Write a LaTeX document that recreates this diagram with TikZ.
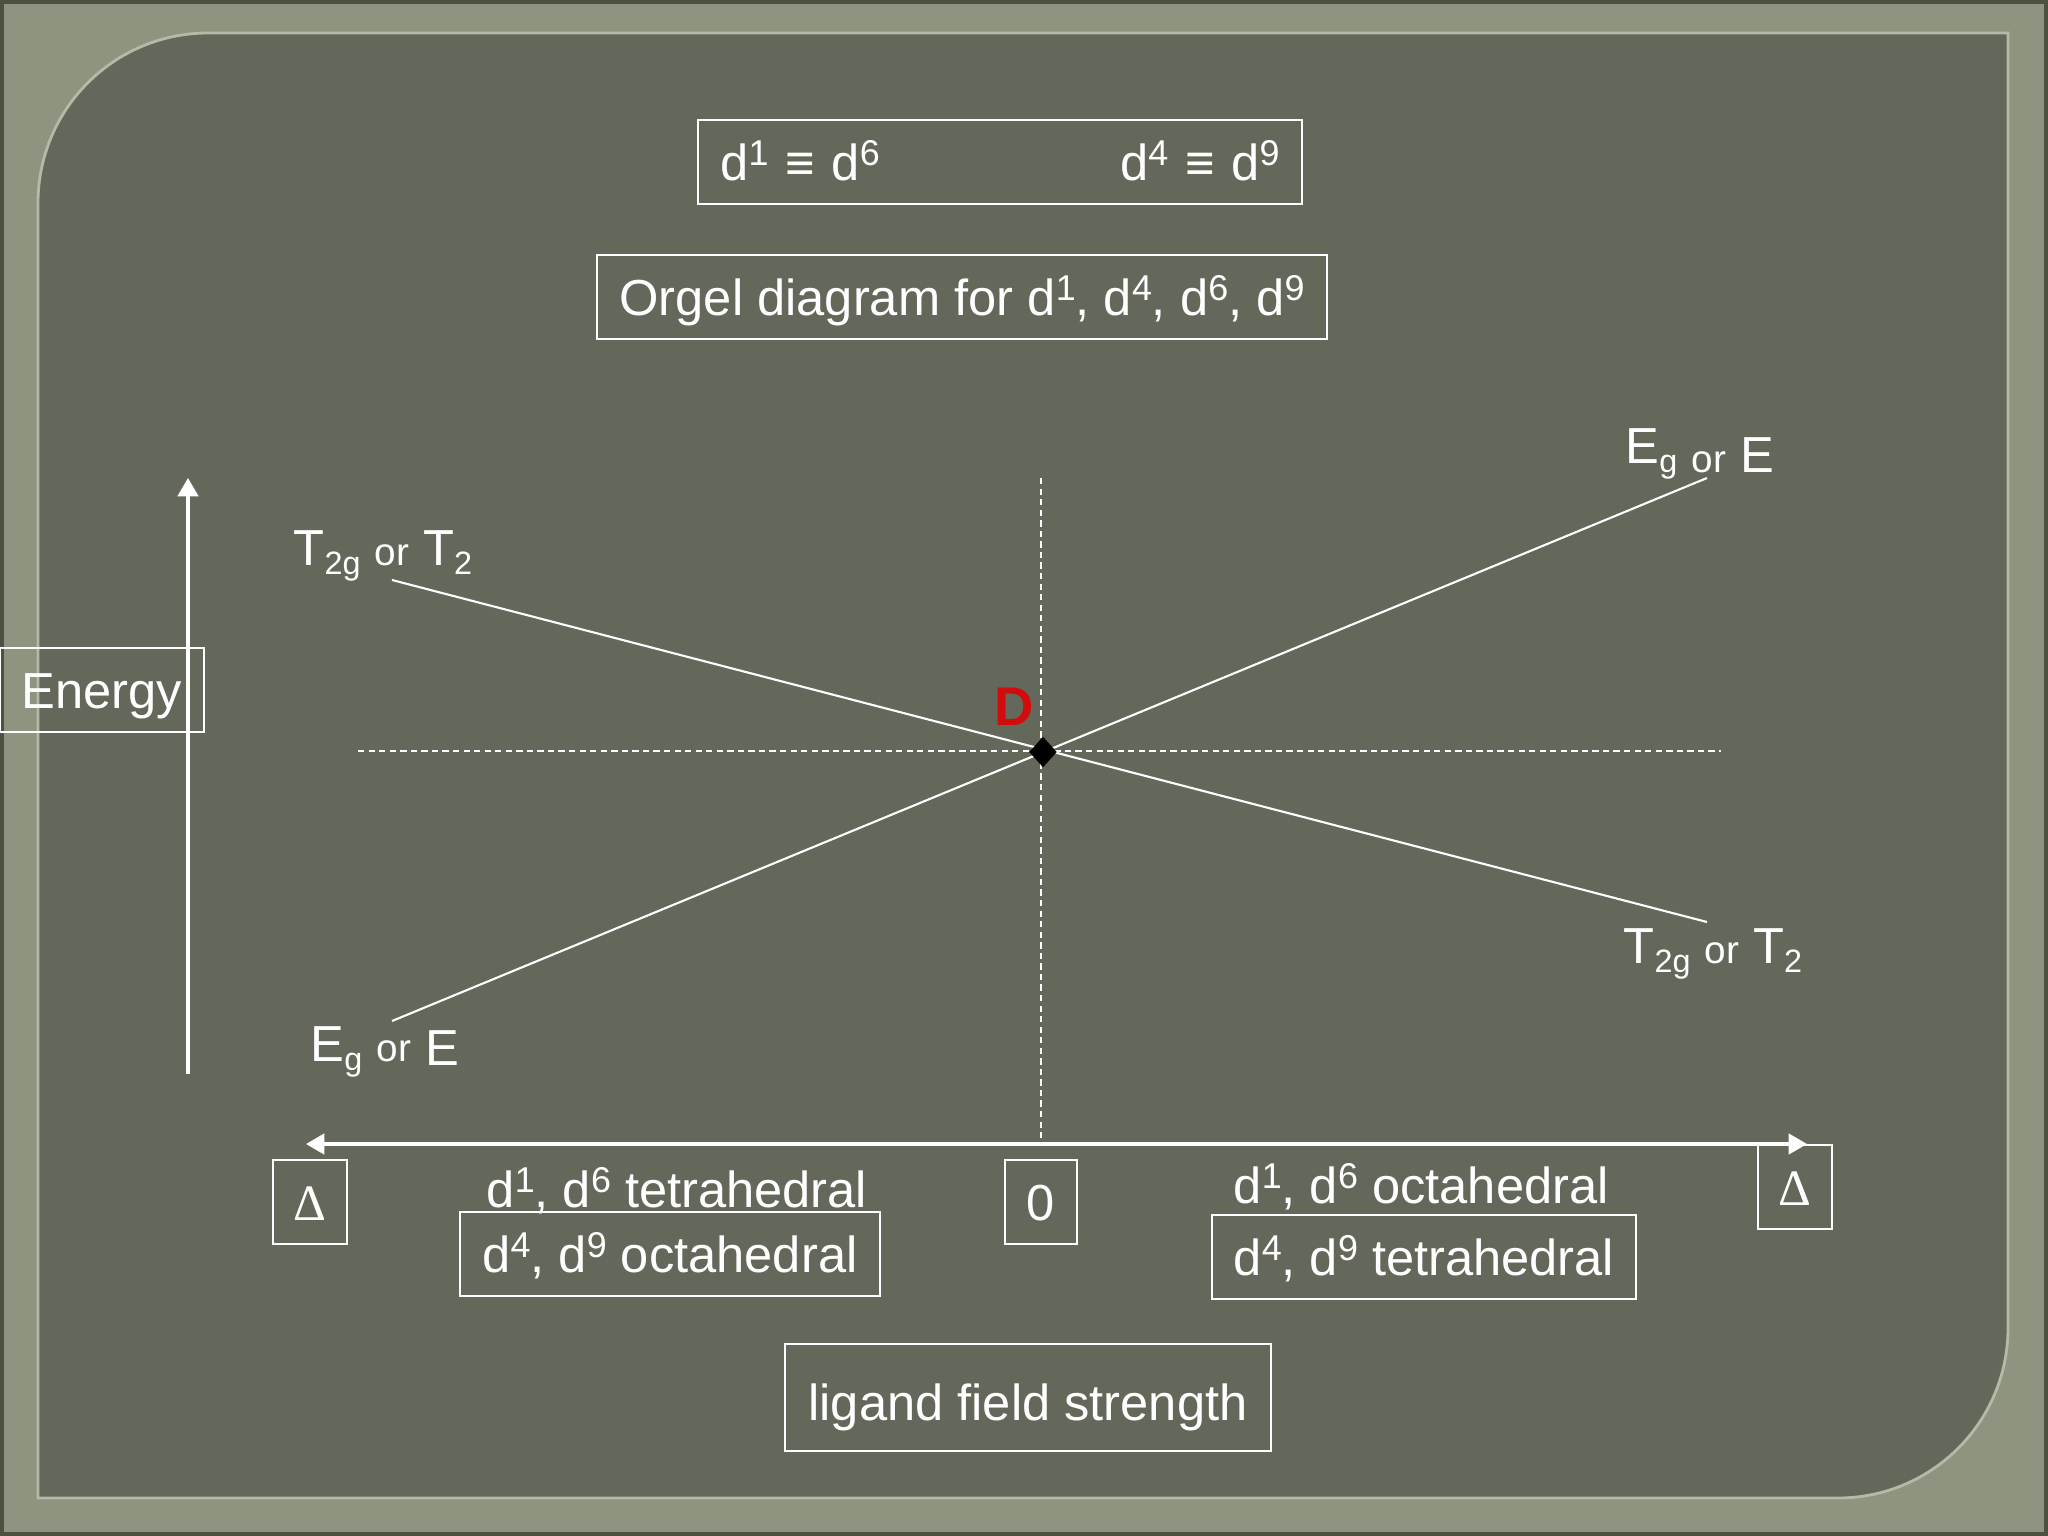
\documentclass[tikz,border=0pt]{standalone}
\usepackage{fontspec}
\setmainfont{Liberation Sans}
\newfontfamily\deltafont{Liberation Serif}
\usetikzlibrary{arrows.meta,shapes.geometric}

\definecolor{framegreen}{RGB}{141,148,128}
\definecolor{frameedge}{RGB}{76,81,66}
\definecolor{panelgreen}{RGB}{100,104,90}
\definecolor{panelrim}{RGB}{180,186,165}
\definecolor{dred}{RGB}{210,12,12}

\newcommand{\bodysize}{\fontsize{14.4}{17}\selectfont}
\newcommand{\dsup}[1]{d\raisebox{4.2pt}{\fontsize{10.2}{12}\selectfont #1}}
\newcommand{\lsub}[1]{\raisebox{-2.6pt}{\fontsize{9.2}{10}\selectfont #1}}
\newcommand{\orword}{{\fontsize{11}{13}\selectfont or}}

\begin{document}
\begin{tikzpicture}[x=0.01cm,y=-0.01cm,
   >={Triangle[length=5.2pt,width=5.8pt]},
   txt/.style={text=white,font=\bodysize,inner sep=0pt},
   tbox/.style={txt,draw=white,line width=0.6pt,text height=0.6cm,text depth=0.24cm},
   level/.style={white,line width=0.6pt},
   guide/.style={white,line width=0.6pt,dash pattern=on 1.8pt off 1.2pt},
   axis/.style={white,line width=0.9pt},
   deltasign/.style={font=\fontsize{14.5}{17}\deltafont}]
   % slide background
   \useasboundingbox (0,0) rectangle (2048,1536);
   \fill [frameedge] (0,0) rectangle (2048,1536);
   \fill [framegreen] (4,4) rectangle (2044,1532);
   \filldraw [fill=panelgreen,draw=panelrim,line width=0.8pt] (38,1498) -- (38,203)
      arc [start angle=180,end angle=270,radius=170] -- (2008,33) -- (2008,1328)
      arc [start angle=0,end angle=90,radius=170] -- cycle;

   % headings
   \node [tbox,text width=5.59cm,inner xsep=0.22cm,anchor=base] (eqv) at (1000,180)
      {\dsup{1} ≡ \dsup{6}\hfill\dsup{4} ≡ \dsup{9}};
   \node [tbox,minimum width=7.3cm,anchor=base] (title) at (962,315)
      {Orgel diagram for \dsup{1}, \dsup{4}, \dsup{6}, \dsup{9}};
   \node [tbox,minimum width=2.04cm,anchor=base] (energy) at (102,708) {Energy};

   % axes
   \coordinate (ebot) at (188,1074);
   \coordinate (etop) at (188,478);
   \coordinate (fleft) at (306,1144);
   \coordinate (fright) at (1807,1144);
   \draw [axis,->] (ebot) -- (etop);
   \draw [axis,<->] (fleft) -- (fright);

   % guides through the free-ion term
   \coordinate (hgl) at (358,751);
   \coordinate (hgr) at (1721,751);
   \coordinate (vgt) at (1041,478);
   \coordinate (vgb) at (1041,1144);
   \draw [guide] (hgl) -- (hgr);
   \draw [guide] (vgt) -- (vgb);

   % term lines
   \coordinate (tl) at (392,580);
   \coordinate (tr) at (1707,922);
   \coordinate (el) at (392,1021);
   \coordinate (er) at (1707,478);
   \draw [level] (tl) -- (tr);
   \draw [level] (el) -- (er);
   \node [diamond,fill=black,inner sep=0pt,minimum width=0.28cm,minimum height=0.31cm] (dpt) at (1043,752) {};
   \node [txt,text=dred,font=\fontsize{15.5}{18}\selectfont\bfseries,anchor=base] (dlab) at (1014,725) {D};

   \node [txt,anchor=base west] (ttl) at (293,565) {T\lsub{2g} \orword{} T\lsub{2}};
   \node [txt,anchor=base west] (etr) at (1625,463) {E\lsub{g} \raisebox{-2.6pt}{\orword{} E}};
   \node [txt,anchor=base west] (tbr) at (1623,963) {T\lsub{2g} \orword{} T\lsub{2}};
   \node [txt,anchor=base west] (ebl) at (310,1061) {E\lsub{g} \orword{} \raisebox{-1.4pt}{E}};

   % field strength scale
   \node [tbox,deltasign,minimum width=0.74cm,anchor=base] (deltal) at (310,1220) {Δ};
   \node [tbox,minimum width=0.72cm,anchor=base] (zero) at (1041,1220) {0};
   \node [tbox,deltasign,minimum width=0.74cm,anchor=base] (deltar) at (1795,1205) {Δ};
   \node [txt,anchor=base west] (tetl) at (486,1207) {\dsup{1}, \dsup{6} tetrahedral};
   \node [tbox,minimum width=4.19cm,anchor=base] (octl) at (670,1272) {\dsup{4}, \dsup{9} octahedral};
   \node [txt,anchor=base west] (octr) at (1233,1203) {\dsup{1}, \dsup{6} octahedral};
   \node [tbox,minimum width=4.24cm,anchor=base] (tetr) at (1424,1275) {\dsup{4}, \dsup{9} tetrahedral};
   \node [tbox,minimum width=4.86cm,text height=0.76cm,text depth=0.31cm,anchor=base] (lfs) at (1028,1420)
      {ligand field strength};
\end{tikzpicture}
\end{document}
